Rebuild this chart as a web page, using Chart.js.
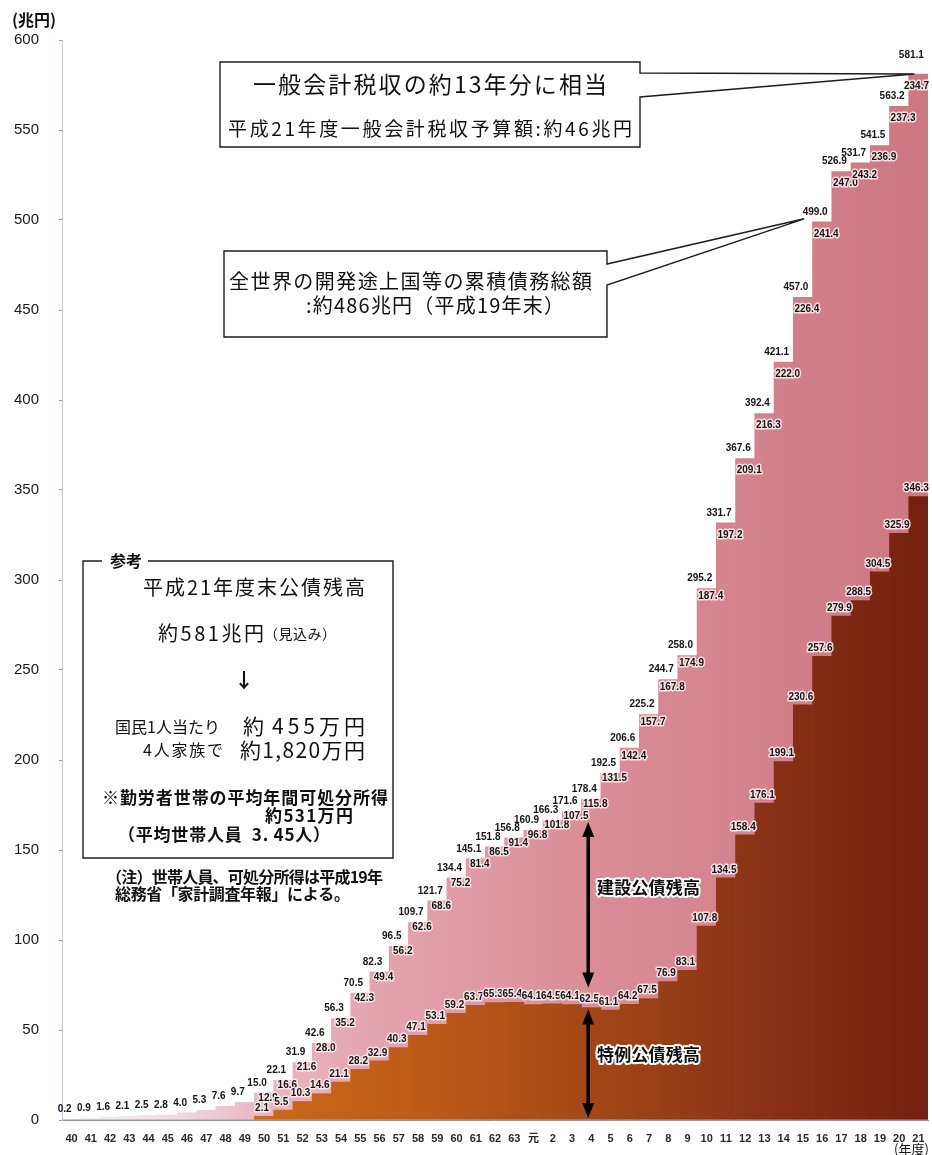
<!DOCTYPE html>
<html>
<head>
<meta charset="utf-8">
<script src="https://cdn.jsdelivr.net/npm/chart.js@4.4.1/dist/chart.umd.min.js"></script>
<style>
  html, body { margin: 0; padding: 0; background: #fff; }
  #wrap { width: 932px; height: 1155px; position: relative; }
</style>
</head>
<body>
<div id="wrap"><canvas id="c" width="932" height="1155"></canvas></div>
<script>
// 公債残高の推移（昭和40年度〜平成21年度、兆円）
const years = ['40','41','42','43','44','45','46','47','48','49',
  '50','51','52','53','54','55','56','57','58','59',
  '60','61','62','63','元','2','3','4','5','6',
  '7','8','9','10','11','12','13','14','15','16',
  '17','18','19','20','21'];

const totalDebt = [0.2, 0.9, 1.6, 2.1, 2.5, 2.8, 4.0, 5.3, 7.6, 9.7,
  15.0, 22.1, 31.9, 42.6, 56.3, 70.5, 82.3, 96.5, 109.7, 121.7,
  134.4, 145.1, 151.8, 156.8, 160.9, 166.3, 171.6, 178.4, 192.5, 206.6,
  225.2, 244.7, 258.0, 295.2, 331.7, 367.6, 392.4, 421.1, 457.0, 499.0,
  526.9, 531.7, 541.5, 563.2, 581.1];

// 建設公債残高
const constructionBonds = [0.2, 0.9, 1.6, 2.1, 2.5, 2.8, 4.0, 5.3, 7.6, 9.7,
  12.9, 16.6, 21.6, 28.0, 35.2, 42.3, 49.4, 56.2, 62.6, 68.6,
  75.2, 81.4, 86.5, 91.4, 96.8, 101.8, 107.5, 115.8, 131.5, 142.4,
  157.7, 167.8, 174.9, 187.4, 197.2, 209.1, 216.3, 222.0, 226.4, 241.4,
  247.0, 243.2, 236.9, 237.3, 234.7];

// 特例公債残高
const deficitBonds = [0, 0, 0, 0, 0, 0, 0, 0, 0, 0,
  2.1, 5.5, 10.3, 14.6, 21.1, 28.2, 32.9, 40.3, 47.1, 53.1,
  59.2, 63.7, 65.3, 65.4, 64.1, 64.5, 64.1, 62.5, 61.1, 64.2,
  67.5, 76.9, 83.1, 107.8, 134.5, 158.4, 176.1, 199.1, 230.6, 257.6,
  279.9, 288.5, 304.5, 325.9, 346.3];

const yTicks = [0, 50, 100, 150, 200, 250, 300, 350, 400, 450, 500, 550, 600];

const JP = '"Noto Sans CJK JP", "Noto Sans CJK SC", sans-serif';
const NUM = '"Liberation Sans", Arial, ' + JP;

// horizontal colour ramps for the two stacked areas
const gradCache = {};
function ramp(chart, key, stops) {
  const area = chart.chartArea;
  if (!area) return null;
  const id = key + area.left + ',' + area.right;
  if (!gradCache[id]) {
    const g = chart.ctx.createLinearGradient(area.left, 0, area.right, 0);
    stops.forEach(s => g.addColorStop(s[0], s[1]));
    gradCache[id] = g;
  }
  return gradCache[id];
}
const pinkStops = [[0, '#f3eff1'], [0.12, '#efdfe4'], [0.22, '#eab9c4'],
  [0.36, '#e3a4b0'], [0.6, '#da8e98'], [1, '#cb7782']];
const darkStops = [[0, '#d0701c'], [0.22, '#cb6a1a'], [0.42, '#bc5a17'],
  [0.62, '#a24617'], [0.8, '#8a3215'], [1, '#722010']];

// text drawn with spacing stretched to a given width
function fitText(ctx, s, left, y, font, width, opts) {
  opts = opts || {};
  ctx.save();
  ctx.font = font;
  ctx.textAlign = 'left';
  ctx.textBaseline = 'middle';
  ctx.letterSpacing = '0px';
  let sp = 0;
  const n = [...s].length;
  if (width && n > 1) {
    const w = ctx.measureText(s).width;
    sp = (width - w) / (n - 1);
  }
  ctx.letterSpacing = sp.toFixed(2) + 'px';
  if (opts.halo) {
    ctx.lineJoin = 'round';
    ctx.strokeStyle = opts.halo;
    ctx.lineWidth = opts.haloWidth || 3;
    ctx.strokeText(s, left, y);
  }
  ctx.fillStyle = opts.color || '#111';
  ctx.fillText(s, left, y);
  ctx.restore();
}

// value label centred at x, kept inside the canvas on the right
function valueLabel(ctx, s, x, y, halo) {
  ctx.save();
  ctx.font = 'bold 10px ' + NUM;
  ctx.textAlign = 'center';
  ctx.textBaseline = 'middle';
  const half = ctx.measureText(s).width / 2;
  x = Math.min(x, ctx.canvas.width - 3 - half);
  if (halo) {
    ctx.lineJoin = 'round';
    ctx.strokeStyle = 'rgba(255,238,240,0.85)';
    ctx.lineWidth = 3;
    ctx.strokeText(s, x, y);
  }
  ctx.fillStyle = '#141414';
  ctx.fillText(s, x, y);
  ctx.restore();
}

function doubleArrow(ctx, x, yTop, yBot) {
  const hl = 15, hw = 6;
  ctx.save();
  ctx.fillStyle = '#000';
  ctx.strokeStyle = '#000';
  ctx.lineWidth = 3.5;
  ctx.beginPath();
  ctx.moveTo(x, yTop + hl - 2);
  ctx.lineTo(x, yBot - hl + 2);
  ctx.stroke();
  ctx.beginPath();
  ctx.moveTo(x, yTop); ctx.lineTo(x - hw, yTop + hl); ctx.lineTo(x + hw, yTop + hl); ctx.closePath();
  ctx.fill();
  ctx.beginPath();
  ctx.moveTo(x, yBot); ctx.lineTo(x - hw, yBot - hl); ctx.lineTo(x + hw, yBot - hl); ctx.closePath();
  ctx.fill();
  ctx.restore();
}

function callout(ctx, l, t, r, b, notchTop, notchBot, tip) {
  ctx.save();
  ctx.beginPath();
  ctx.moveTo(l, t);
  ctx.lineTo(r, t);
  ctx.lineTo(r, notchTop);
  ctx.lineTo(tip[0], tip[1]);
  ctx.lineTo(r, notchBot);
  ctx.lineTo(r, b);
  ctx.lineTo(l, b);
  ctx.closePath();
  ctx.fillStyle = '#fff';
  ctx.fill();
  ctx.strokeStyle = '#1e1e1e';
  ctx.lineWidth = 1.4;
  ctx.stroke();
  ctx.restore();
}

const decorations = {
  id: 'decorations',
  afterDatasetsDraw(chart) {
    const ctx = chart.ctx;
    const xs = chart.scales.x, ys = chart.scales.y;
    const last = years.length - 1;

    // value labels
    years.forEach((yr, i) => {
      const x = xs.getPixelForValue(i);
      const top = ys.getPixelForValue(constructionBonds[i] + deficitBonds[i]);
      const dyTotal = i === last ? -19 : -10;
      valueLabel(ctx, totalDebt[i].toFixed(1), x - 7, top + dyTotal, false);
      if (deficitBonds[i] > 0) {
        const t = totalDebt[i];
        const dyC = t < 200 ? 5 : (t < 300 ? 8 : 12);
        valueLabel(ctx, constructionBonds[i].toFixed(1), x + 4, top + dyC, true);
        const ySp = ys.getPixelForValue(deficitBonds[i]);
        valueLabel(ctx, deficitBonds[i].toFixed(1), x - 2, ySp - 8, true);
      }
    });

    // arrows marking the two stacks at 平成4年度
    const k = years.indexOf('4');
    const ax = xs.getPixelForValue(k) - 3;
    const ySplit = ys.getPixelForValue(deficitBonds[k]);
    doubleArrow(ctx, ax, ys.getPixelForValue(totalDebt[k]) + 23, ySplit - 20);
    doubleArrow(ctx, ax, ySplit + 2, ys.getPixelForValue(0) - 2);
    fitText(ctx, '建設公債残高', 597, 888, 'bold 17px ' + JP, 103, { halo: '#fff', haloWidth: 4 });
    fitText(ctx, '特例公債残高', 597, 1055, 'bold 17px ' + JP, 103, { halo: '#fff', haloWidth: 4 });
  },
  afterDraw(chart) {
    const ctx = chart.ctx;
    const xs = chart.scales.x, ys = chart.scales.y;
    const last = years.length - 1;
    const i16 = years.indexOf('16');

    // axis unit captions
    fitText(ctx, '(兆円)', 12, 20, 'bold 16px ' + JP, 0);
    fitText(ctx, '(年度)', 894, 1149, '13px ' + JP, 0);

    // callout: 一般会計税収
    const tip1 = [xs.getPixelForValue(last) - 4, ys.getPixelForValue(totalDebt[last])];
    callout(ctx, 220, 62, 640, 147, 73, 97, tip1);
    fitText(ctx, '一般会計税収の約13年分に相当', 253, 84, '23px ' + JP, 354);
    fitText(ctx, '平成21年度一般会計税収予算額:約46兆円', 228, 129, '19px ' + JP, 404);

    // callout: 開発途上国等の累積債務
    const tip2 = [xs.getPixelForValue(i16) - 18, ys.getPixelForValue(totalDebt[i16]) - 3];
    callout(ctx, 224, 251, 607, 337, 264, 285, tip2);
    fitText(ctx, '全世界の開発途上国等の累積債務総額', 229, 281, '20px ' + JP, 363);
    fitText(ctx, ':約486兆円（平成19年末）', 306, 305, '20px ' + JP, 258);

    // reference box
    ctx.save();
    ctx.strokeStyle = '#1e1e1e';
    ctx.lineWidth = 1.4;
    ctx.beginPath();
    ctx.moveTo(102, 561);
    ctx.lineTo(83, 561);
    ctx.lineTo(83, 858);
    ctx.lineTo(393, 858);
    ctx.lineTo(393, 561);
    ctx.lineTo(148, 561);
    ctx.stroke();
    ctx.restore();
    fitText(ctx, '参考', 110, 561, 'bold 16px ' + JP, 32);
    fitText(ctx, '平成21年度末公債残高', 143, 587, '20px ' + JP, 222);
    fitText(ctx, '約581兆円', 158, 633, '20px ' + JP, 106);
    fitText(ctx, '（見込み）', 264, 634, '14px ' + JP, 72);
    fitText(ctx, '↓', 234, 680, 'bold 20px ' + JP, 0);
    fitText(ctx, '国民1人当たり', 115, 727, '16px ' + JP, 105);
    fitText(ctx, '約', 243, 726, '21px ' + JP, 0);
    fitText(ctx, '455万円', 272, 726, '21px ' + JP, 93);
    fitText(ctx, '4人家族で', 143, 750, '16px ' + JP, 80);
    fitText(ctx, '約1,820万円', 240, 750, '21px ' + JP, 125);
    fitText(ctx, '※勤労者世帯の平均年間可処分所得', 102, 798, 'bold 17px ' + JP, 286);
    fitText(ctx, '約531万円', 265, 816, 'bold 17px ' + JP, 88);
    fitText(ctx, '（平均世帯人員  3. 45人）', 118, 835, 'bold 17px ' + JP, 212);
    fitText(ctx, '（注）世帯人員、可処分所得は平成19年', 106, 877, 'bold 16px ' + JP, 277);
    fitText(ctx, '総務省「家計調査年報」による。', 115, 894, 'bold 16px ' + JP, 235);
  }
};

new Chart(document.getElementById('c'), {
  type: 'bar',
  data: {
    labels: years,
    datasets: [
      {
        label: '特例公債残高',
        data: deficitBonds,
        backgroundColor: c => ramp(c.chart, 'dark', darkStops),
        stack: 'debt'
      },
      {
        label: '建設公債残高',
        data: constructionBonds,
        backgroundColor: c => ramp(c.chart, 'pink', pinkStops),
        stack: 'debt'
      }
    ]
  },
  options: {
    responsive: false,
    animation: false,
    layout: { padding: { top: 40, right: 4, left: 0, bottom: 0 } },
    datasets: { bar: { barPercentage: 1, categoryPercentage: 1, borderWidth: 0 } },
    plugins: { legend: { display: false }, tooltip: { enabled: false } },
    scales: {
      x: {
        stacked: true,
        grid: { display: false },
        border: { display: true, color: '#8d93a6', width: 1 },
        ticks: {
          font: { family: NUM, weight: 'bold', size: 11 },
          color: '#2a2a2a', padding: 4, maxRotation: 0, autoSkip: false
        },
        afterFit: s => { s.height = 35; }
      },
      y: {
        stacked: true,
        min: 0, max: 600,
        afterBuildTicks: s => { s.ticks = yTicks.map(v => ({ value: v })); },
        ticks: { font: { family: NUM, size: 15 }, color: '#1a1a1a', padding: 20 },
        grid: { drawOnChartArea: false, tickLength: 3, color: '#9a9a9a' },
        border: { display: true, color: '#c5cad8', dash: [1, 2] },
        afterFit: s => { s.width = 62; }
      }
    }
  },
  plugins: [decorations]
});
</script>
</body>
</html>
